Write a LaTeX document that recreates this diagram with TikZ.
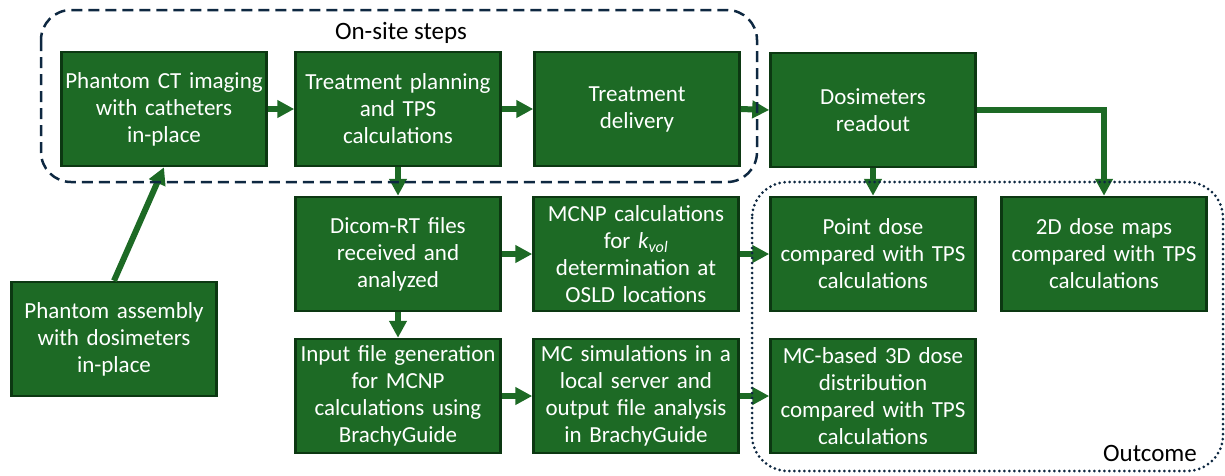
\documentclass[tikz,border=0pt]{standalone}
\usepackage{fontspec}
\setmainfont{Carlito}
\usetikzlibrary{arrows.meta}
\definecolor{boxgreen}{RGB}{29,106,37}
\definecolor{boxedge}{RGB}{12,56,18}
\definecolor{navyline}{RGB}{14,40,65}
\tikzset{
  stepbox/.style={draw=boxedge, line width=2.5pt, fill=boxgreen, text=white,
    minimum width=205pt, minimum height=114pt, text width=204pt, align=center,
    inner sep=0pt, font=\fontsize{23}{27}\selectfont},
  flow/.style={draw=boxgreen, line width=6pt, -{Triangle[length=17pt,width=17pt]}},
  grouplabel/.style={text=black, font=\fontsize{25}{29}\selectfont, inner sep=0pt}
}
\begin{document}
\begin{tikzpicture}[x=1pt,y=-1pt]
\useasboundingbox (0,0) rectangle (1225,475);
% boxes
\node[stepbox] (b1) at (164,109) {Phantom CT imaging\\with catheters\\in-place};
\node[stepbox] (b2) at (398,109) {Treatment planning\\and TPS\\calculations};
\node[stepbox] (b3) at (637,109) {Treatment\\delivery};
\node[stepbox] (b4) at (873,110) {Dosimeters\\readout};
\node[stepbox] (b5) at (398,254) {Dicom-RT files\\received and\\analyzed};
\node[stepbox] (b6) at (636,254) {MCNP calculations\\for {\itshape k}\textsubscript{\itshape vol}\\determination at\\OSLD locations};
\node[stepbox] (b7) at (873,254) {Point dose\\compared with TPS\\calculations};
\node[stepbox] (b8) at (1104,254) {2D dose maps\\compared with TPS\\calculations};
\node[stepbox] (b9) at (398,396) {Input file generation\\for MCNP\\calculations using\\BrachyGuide};
\node[stepbox] (b10) at (636,396) {MC simulations in a\\local server and\\output file analysis\\in BrachyGuide};
\node[stepbox] (b11) at (873,396) {MC-based 3D dose\\distribution\\compared with TPS\\calculations};
\node[stepbox] (b0) at (114,339) {Phantom assembly\\with dosimeters\\in-place};
% arrows
\draw[flow] (b0.north) -- (b1.south);
\draw[flow] (b1.east) -- (b2.west);
\draw[flow] (b2.east) -- (b3.west);
\draw[flow] (b3.east) -- (b4.west);
\draw[flow] (b2.south) -- (b5.north);
\draw[flow] (b5.east) -- (b6.west);
\draw[flow] (b5.south) -- (b9.north);
\draw[flow] (b9.east) -- (b10.west);
\draw[flow] (b6.east) -- (b7.west);
\draw[flow] (b10.east) -- (b11.west);
\draw[flow] (b4.south) -- (b7.north);
\draw[flow] (b4.east) -| (b8.north);
% groups
\draw[navyline, line width=2.5pt, dash pattern=on 11pt off 6pt, rounded corners=30pt]
  (41,10) rectangle (757,182);
\draw[navyline, line width=3pt, dash pattern=on 0pt off 5pt, line cap=round, rounded corners=36pt]
  (752,182) rectangle (1223,471);
\node[grouplabel] (onsite) at (401,33) {On-site steps};
\node[grouplabel] (outcome) at (1150,453) {Outcome};
\end{tikzpicture}
\end{document}
